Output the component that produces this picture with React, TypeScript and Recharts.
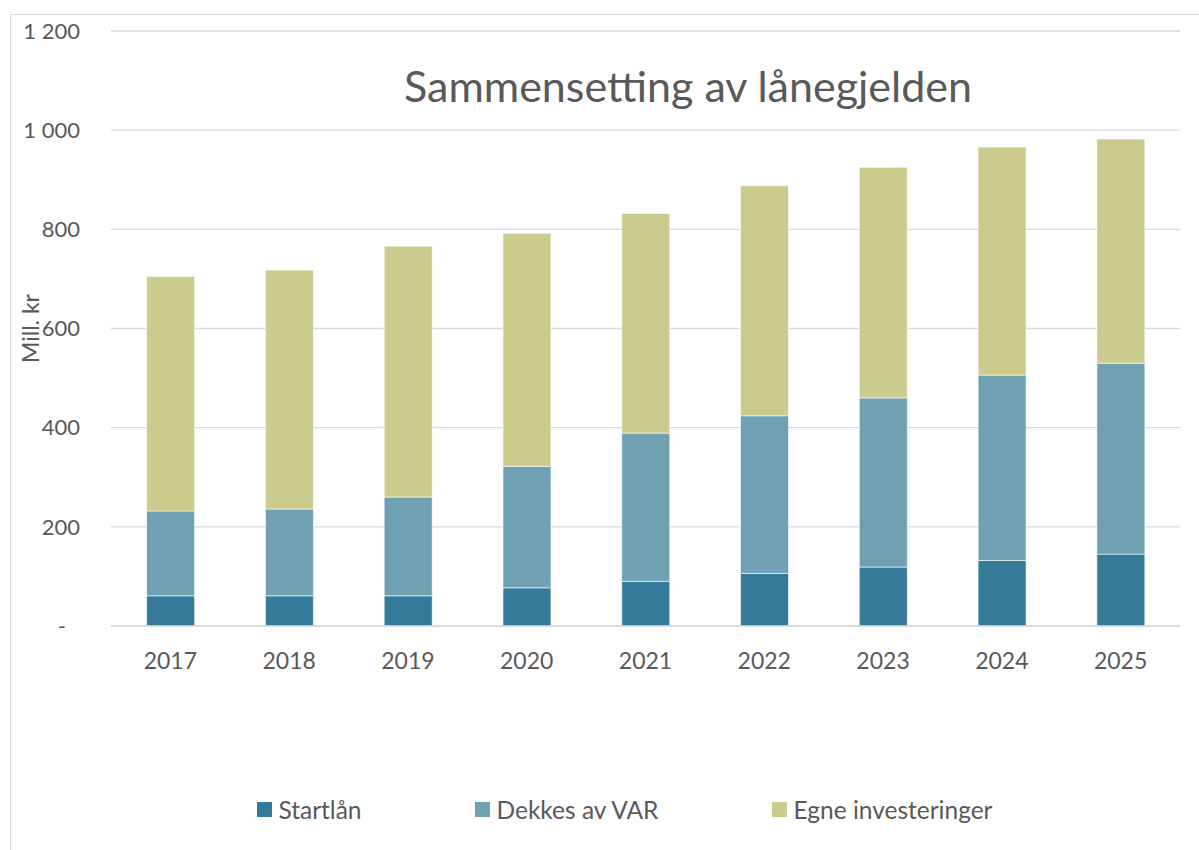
import React from 'react';
import { Bar, BarChart, CartesianGrid, Label, Legend, XAxis, YAxis } from 'recharts';

const years = ['2017', '2018', '2019', '2020', '2021', '2022', '2023', '2024', '2025'];
const startlan = [61, 61, 61, 77, 90, 106, 119, 132, 145];
const dekkesAvVar = [171, 175, 199, 245, 299, 318, 341, 374, 385];
const egneInvesteringer = [473, 482, 506, 470, 443, 464, 465, 460, 452];
const yTicks = [0, 200, 400, 600, 800, 1000, 1200];
const seriesNames = ['Startlån', 'Dekkes av VAR', 'Egne investeringer'];

const data = years.map((year, i) => ({
  year,
  startlan: startlan[i],
  dekkes: dekkesAvVar[i],
  egne: egneInvesteringer[i],
}));

const FONT = 'Lato, "Open Sans", sans-serif';
const TEXT = '#595959';
const GRID = '#d9d9d9';

const fmt = (v: number) => (v === 0 ? '-' : String(v).replace(/\B(?=(\d{3})+(?!\d))/g, ' '));

const YTick = (props: any) => {
  const { x, y, payload } = props;
  const zero = payload.value === 0;
  return (
    <text x={x} y={y} dx={zero ? -14 : 0} dy="0.35em" textAnchor="end" fill={TEXT} fontSize={22} fontFamily={FONT}>
      {fmt(payload.value)}
    </text>
  );
};

const LegendContent = (props: any) => {
  const items = [...(props.payload || [])].sort(
    (a: any, b: any) => seriesNames.indexOf(a.value) - seriesNames.indexOf(b.value)
  );
  return (
    <div style={{ display: 'flex', justifyContent: 'center', paddingLeft: 70, fontFamily: FONT, fontSize: 24.5, color: TEXT }}>
      {items.map((item: any, i: number) => (
        <div key={item.value} style={{ display: 'flex', alignItems: 'center', marginRight: i < items.length - 1 ? 114 : 0 }}>
          <span style={{ width: 15, height: 15, background: item.color, display: 'inline-block', marginRight: 6 }} />
          <span>{item.value}</span>
        </div>
      ))}
    </div>
  );
};

export default function App() {
  return (
    <div style={{ position: 'absolute', left: 0, top: 0, width: 1199, height: 850, background: '#fff', overflow: 'hidden' }}>
      <div style={{ position: 'absolute', left: 10, top: 14, width: 1200, height: 850, border: `1.5px solid ${GRID}`, boxSizing: 'border-box' }} />
      <BarChart
        width={1199}
        height={850}
        data={data}
        margin={{ top: 31, right: 19, left: 0, bottom: 165 }}
        barCategoryGap="30%"
        style={{ position: 'absolute', left: 0, top: 0 }}
      >
        <CartesianGrid vertical={false} stroke={GRID} strokeWidth={1.3} />
        <XAxis
          dataKey="year"
          axisLine={{ stroke: GRID, strokeWidth: 1.3 }}
          tickLine={false}
          tickSize={0}
          tickMargin={27}
          tick={{ fill: TEXT, fontSize: 23, fontFamily: FONT }}
        />
        <YAxis
          width={111}
          domain={[0, 1200]}
          ticks={yTicks}
          axisLine={false}
          tickLine={false}
          tickSize={0}
          tickMargin={31}
          tick={<YTick />}
        >
          <Label
            content={(p: any) => {
              const vb = p.viewBox;
              const cx = vb.x + 31;
              const cy = vb.y + vb.height / 2;
              return (
                <text x={cx} y={cy} transform={`rotate(-90 ${cx} ${cy})`} textAnchor="middle" dy="0.35em" fill={TEXT} fontSize={23} fontFamily={FONT}>
                  Mill. kr
                </text>
              );
            }}
          />
        </YAxis>
        <Legend verticalAlign="bottom" wrapperStyle={{ bottom: 26 }} content={<LegendContent />} />
        <Bar dataKey="startlan" name="Startlån" stackId="a" fill="#367a99" stroke="#ffffff" strokeWidth={0.6} isAnimationActive={false} />
        <Bar dataKey="dekkes" name="Dekkes av VAR" stackId="a" fill="#6fa1b3" stroke="#ffffff" strokeWidth={0.6} isAnimationActive={false} />
        <Bar dataKey="egne" name="Egne investeringer" stackId="a" fill="#cbcb8d" stroke="#ffffff" strokeWidth={0.6} isAnimationActive={false} />
      </BarChart>
      <div style={{ position: 'absolute', left: 0, width: 1199, top: 60, paddingLeft: 177, boxSizing: 'border-box', textAlign: 'center', fontFamily: FONT, fontSize: 43, color: TEXT, pointerEvents: 'none' }}>
        Sammensetting av lånegjelden
      </div>
    </div>
  );
}
